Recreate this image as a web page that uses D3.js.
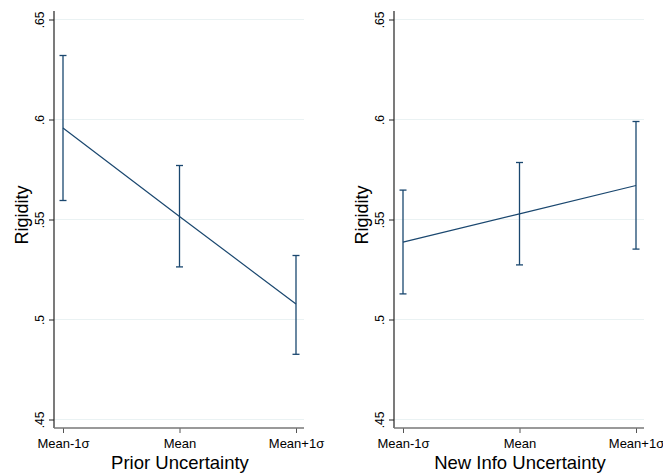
<!DOCTYPE html>
<html>
<head>
<meta charset="utf-8">
<script src="https://cdn.jsdelivr.net/npm/d3@7"></script>
<style>
  body { margin: 0; background: #fff; }
  svg { font-family: "Liberation Sans", Arial, Helvetica, sans-serif; }
</style>
</head>
<body>
<svg id="chart" width="663" height="473"></svg>
<script>
const categories = ["Mean-1σ", "Mean", "Mean+1σ"];
const yTicks = [0.45, 0.5, 0.55, 0.6, 0.65];
const yTickLabels = [".45", ".5", ".55", ".6", ".65"];

const priorEstimate = [0.5957, 0.5515, 0.5078];
const priorLower = [0.5595, 0.5263, 0.4826];
const priorUpper = [0.6320, 0.5770, 0.5320];

const newInfoEstimate = [0.5387, 0.5528, 0.5670];
const newInfoLower = [0.5128, 0.5273, 0.5352];
const newInfoUpper = [0.5647, 0.5785, 0.5990];

const panels = [
  { title: "Prior Uncertainty", est: priorEstimate, lo: priorLower, hi: priorUpper, left: 54 },
  { title: "New Info Uncertainty", est: newInfoEstimate, lo: newInfoLower, hi: newInfoUpper, left: 394 }
];

const svg = d3.select("#chart");
const lineColor = "#1a476f";
const plotW = 250, plotBottom = 428;

const y = d3.scaleLinear().domain([0.45, 0.65]).range([419.5, 19.5]);

panels.forEach((p) => {
  const g = svg.append("g");
  const x = d3.scalePoint()
    .domain(categories)
    .range([p.left + 9, p.left + plotW - 8]);

  // grid lines
  g.selectAll(".grid")
    .data(yTicks)
    .enter().append("line")
      .attr("x1", p.left).attr("x2", p.left + plotW)
      .attr("y1", (d) => y(d)).attr("y2", (d) => y(d))
      .attr("stroke", "#eaf2f3")
      .attr("stroke-width", 1);

  // y axis
  const axisY = d3.axisLeft(y)
    .tickValues(yTicks)
    .tickSize(5)
    .tickFormat((d, i) => yTickLabels[i]);
  const ay = g.append("g")
    .attr("transform", `translate(${p.left},0)`)
    .call(axisY);
  ay.select(".domain").remove();
  ay.selectAll(".tick line").attr("stroke", "#222");
  ay.selectAll(".tick text")
    .attr("transform", "rotate(-90)")
    .attr("x", 0).attr("y", -10)
    .attr("dy", 0)
    .attr("text-anchor", "middle")
    .style("font-size", "12px")
    .attr("fill", "#000");
  g.append("line")
    .attr("x1", p.left).attr("x2", p.left)
    .attr("y1", 11).attr("y2", plotBottom)
    .attr("stroke", "#222").attr("stroke-width", 1.2);

  // x axis
  const axisX = d3.axisBottom(x).tickSize(5).tickSizeOuter(0);
  const ax = g.append("g")
    .attr("transform", `translate(0,${plotBottom})`)
    .call(axisX);
  ax.select(".domain").remove();
  ax.selectAll(".tick line").attr("stroke", "#555");
  ax.selectAll(".tick text")
    .attr("y", 20).attr("dy", 0)
    .style("font-size", "13px")
    .attr("fill", "#000");
  g.append("line")
    .attr("x1", p.left).attr("x2", p.left + plotW)
    .attr("y1", plotBottom).attr("y2", plotBottom)
    .attr("stroke", "#777").attr("stroke-width", 1.3);

  // titles
  g.append("text")
    .attr("x", (p.left + p.left + plotW) / 2 + 1)
    .attr("y", 469)
    .attr("text-anchor", "middle")
    .style("font-size", "18.5px")
    .text(p.title);
  g.append("text")
    .attr("transform", `translate(${p.left - 26},215) rotate(-90)`)
    .attr("text-anchor", "middle")
    .style("font-size", "18px")
    .text("Rigidity");

  // error bars
  const bars = g.selectAll(".ci")
    .data(categories.map((c, i) => ({ c: c, lo: p.lo[i], hi: p.hi[i] })))
    .enter().append("g");
  bars.append("line")
    .attr("x1", (d) => x(d.c)).attr("x2", (d) => x(d.c))
    .attr("y1", (d) => y(d.lo)).attr("y2", (d) => y(d.hi))
    .attr("stroke", lineColor).attr("stroke-width", 1.3);
  ["lo", "hi"].forEach((k) => {
    bars.append("line")
      .attr("x1", (d) => x(d.c) - 3.5).attr("x2", (d) => x(d.c) + 3.5)
      .attr("y1", (d) => y(d[k])).attr("y2", (d) => y(d[k]))
      .attr("stroke", lineColor).attr("stroke-width", 1.3);
  });

  // estimate line
  const line = d3.line()
    .x((d, i) => x(categories[i]))
    .y((d) => y(d));
  g.append("path")
    .attr("d", line(p.est))
    .attr("fill", "none")
    .attr("stroke", lineColor)
    .attr("stroke-width", 1.2);
});
</script>
</body>
</html>
